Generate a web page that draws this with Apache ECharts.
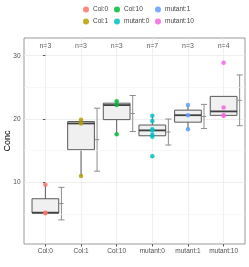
<!DOCTYPE html>
<html><head><meta charset="utf-8">
<script src="https://cdn.jsdelivr.net/npm/echarts@6/dist/echarts.min.js"></script>
<style>html,body{margin:0;padding:0;background:#fff}#c{width:249px;height:267px}</style>
</head><body><div id="c"></div>
<script>
// ---- data ----
const categories = ['Col:0', 'Col:1', 'Col:10', 'mutant:0', 'mutant:1', 'mutant:10'];
const colors = ['#F8766D', '#B79F00', '#00BA38', '#00BFC4', '#619CFF', '#F564E3'];
const valsCol0 = [5.1, 5.2, 9.6];
const valsCol1 = [11.0, 19.3, 19.9];
const valsCol10 = [17.6, 22.2, 22.8];
const valsMut0 = [14.1, 17.2, 17.5, 18.2, 18.4, 19.7, 20.5];
const valsMut1 = [18.4, 20.6, 22.2];
const valsMut10 = [20.5, 20.6, 21.8, 28.9];
const yTicks = [10, 20, 30];
const yMinor = [5, 15, 25];
const nLabelY = 31.5;
const yMin = 0.25, yMax = 32.8;
const xMin = -0.6, xMax = 5.6;

const groups = [valsCol0, valsCol1, valsCol10, valsMut0, valsMut1, valsMut10];
const xIdx = categories.map((c, i) => i);

function quant(s, p) {
  const h = (s.length - 1) * p, lo = Math.floor(h), hi = Math.ceil(h);
  return s[lo] + (h - lo) * (s[hi] - s[lo]);
}
function stats(v) {
  const s = v.slice().sort((a, b) => a - b);
  const q1 = quant(s, 0.25), md = quant(s, 0.5), q3 = quant(s, 0.75);
  const iqr = q3 - q1;
  const up = Math.max(q3, Math.max(...s.filter(x => x <= q3 + 1.5 * iqr)));
  const lw = Math.min(q1, Math.min(...s.filter(x => x >= q1 - 1.5 * iqr)));
  const mean = s.reduce((a, b) => a + b, 0) / s.length;
  const sd = Math.sqrt(s.reduce((a, b) => a + (b - mean) * (b - mean), 0) / (s.length - 1));
  return [lw, q1, md, q3, up, mean, sd];
}
const boxData = groups.map((g, i) => [i].concat(stats(g)));

const FONT = '"Liberation Sans", Arial, Helvetica, sans-serif';

function renderBox(params, api) {
  const i = api.value(0);
  const lw = api.value(1), q1 = api.value(2), md = api.value(3), q3 = api.value(4), up = api.value(5);
  const mean = api.value(6), sd = api.value(7);
  const hw = 0.375, eo = 0.45, cap = 0.085, mt = 0.06;
  const tl = api.coord([i - hw, q3]), br = api.coord([i + hw, q1]);
  const mL = api.coord([i - hw, md]), mR = api.coord([i + hw, md]);
  const wTop = api.coord([i, up]), wQ3 = api.coord([i, q3]);
  const wBot = api.coord([i, lw]), wQ1 = api.coord([i, q1]);
  const eT = api.coord([i + eo, mean + sd]), eB = api.coord([i + eo, mean - sd]);
  const eTL = api.coord([i + eo - cap, mean + sd]), eTR = api.coord([i + eo + cap, mean + sd]);
  const eBL = api.coord([i + eo - cap, mean - sd]), eBR = api.coord([i + eo + cap, mean - sd]);
  const eML = api.coord([i + eo - mt, mean]), eMR = api.coord([i + eo + mt, mean]);
  const boxStroke = '#595959', errStroke = '#8c8c8c';
  const line = (a, b, c, w) => ({ type: 'line', shape: { x1: a[0], y1: a[1], x2: b[0], y2: b[1] }, style: { stroke: c, lineWidth: w } });
  return {
    type: 'group',
    children: [
      line(wTop, wQ3, boxStroke, 1),
      line(wBot, wQ1, boxStroke, 1),
      { type: 'rect', shape: { x: tl[0], y: tl[1], width: br[0] - tl[0], height: br[1] - tl[1] },
        style: { fill: '#f0f0f0', stroke: boxStroke, lineWidth: 1 } },
      line(mL, mR, '#404040', 1.8),
      line(eT, eB, errStroke, 1),
      line(eTL, eTR, errStroke, 1),
      line(eBL, eBR, errStroke, 1),
      line(eML, eMR, errStroke, 1)
    ]
  };
}

const series = [
  {
    type: 'line', data: [], silent: true, z: 1,
    markLine: { silent: true, symbol: 'none', label: { show: false },
      lineStyle: { color: '#f4f4f4', width: 0.6, type: 'solid' },
      data: yMinor.map(v => ({ yAxis: v })) }
  },
  { type: 'custom', name: 'box', renderItem: renderBox, data: boxData, z: 3, silent: true,
    encode: { x: 0, y: [1, 2, 3, 4, 5] } }
];
groups.forEach((g, i) => {
  series.push({
    type: 'scatter', name: categories[i], z: 5,
    symbol: 'circle', symbolSize: 4.5,
    itemStyle: { color: colors[i], opacity: 0.85 },
    data: g.map(v => [i, v])
  });
});
series.push({
  type: 'scatter', name: 'nlab', z: 6, symbolSize: 0, silent: true,
  data: groups.map((g, i) => [i, nLabelY, 'n=' + g.length]),
  label: { show: true, position: 'inside', formatter: p => p.data[2],
    fontSize: 7, color: '#333', fontFamily: FONT }
});

const legendBase = {
  orient: 'vertical', top: 6, itemWidth: 6, itemHeight: 6, itemGap: 5,
  icon: 'circle', padding: 0,
  textStyle: { fontSize: 6.5, color: '#444', fontFamily: FONT, padding: [0, 0, 0, -1] }
};
const chart = echarts.init(document.getElementById('c'), null, { renderer: 'canvas' });
chart.setOption({
  animation: false,
  backgroundColor: '#fff',
  textStyle: { fontFamily: FONT },
  legend: [
    Object.assign({}, legendBase, { left: 83, data: [categories[0], categories[1]] }),
    Object.assign({}, legendBase, { left: 114, data: [categories[2], categories[3]] }),
    Object.assign({}, legendBase, { left: 155, data: [categories[4], categories[5]] })
  ],
  grid: { left: 24, right: 4, top: 38, bottom: 23, outerBoundsMode: 'none', containLabel: false,
    show: true, borderColor: '#9a9a9a', borderWidth: 1, backgroundColor: '#fff' },
  xAxis: {
    type: 'value', min: xMin, max: xMax, splitNumber: 6,
    axisLine: { show: false },
    axisTick: { show: true, length: 2.5, lineStyle: { color: '#555' }, customValues: xIdx },
    axisLabel: { customValues: xIdx, formatter: v => categories[Math.round(v)] || '',
      fontSize: 6.5, color: '#4d4d4d', margin: 3.5, fontFamily: FONT },
    splitLine: { show: true, lineStyle: { color: '#ebebeb', width: 0.8 } }
  },
  yAxis: {
    type: 'value', min: yMin, max: yMax, splitNumber: 3,
    name: 'Conc', nameLocation: 'middle', nameGap: 12, nameRotate: 90, nameMoveOverlap: false,
    nameTextStyle: { fontSize: 9, color: '#000', fontFamily: FONT },
    axisLine: { show: false },
    axisTick: { show: true, length: 2.5, lineStyle: { color: '#555' }, customValues: yTicks },
    axisLabel: { customValues: yTicks, fontSize: 6.5, color: '#4d4d4d', margin: 3.5, fontFamily: FONT },
    splitLine: { show: true, lineStyle: { color: '#ebebeb', width: 0.8 } }
  },
  series: series
});
</script></body></html>
